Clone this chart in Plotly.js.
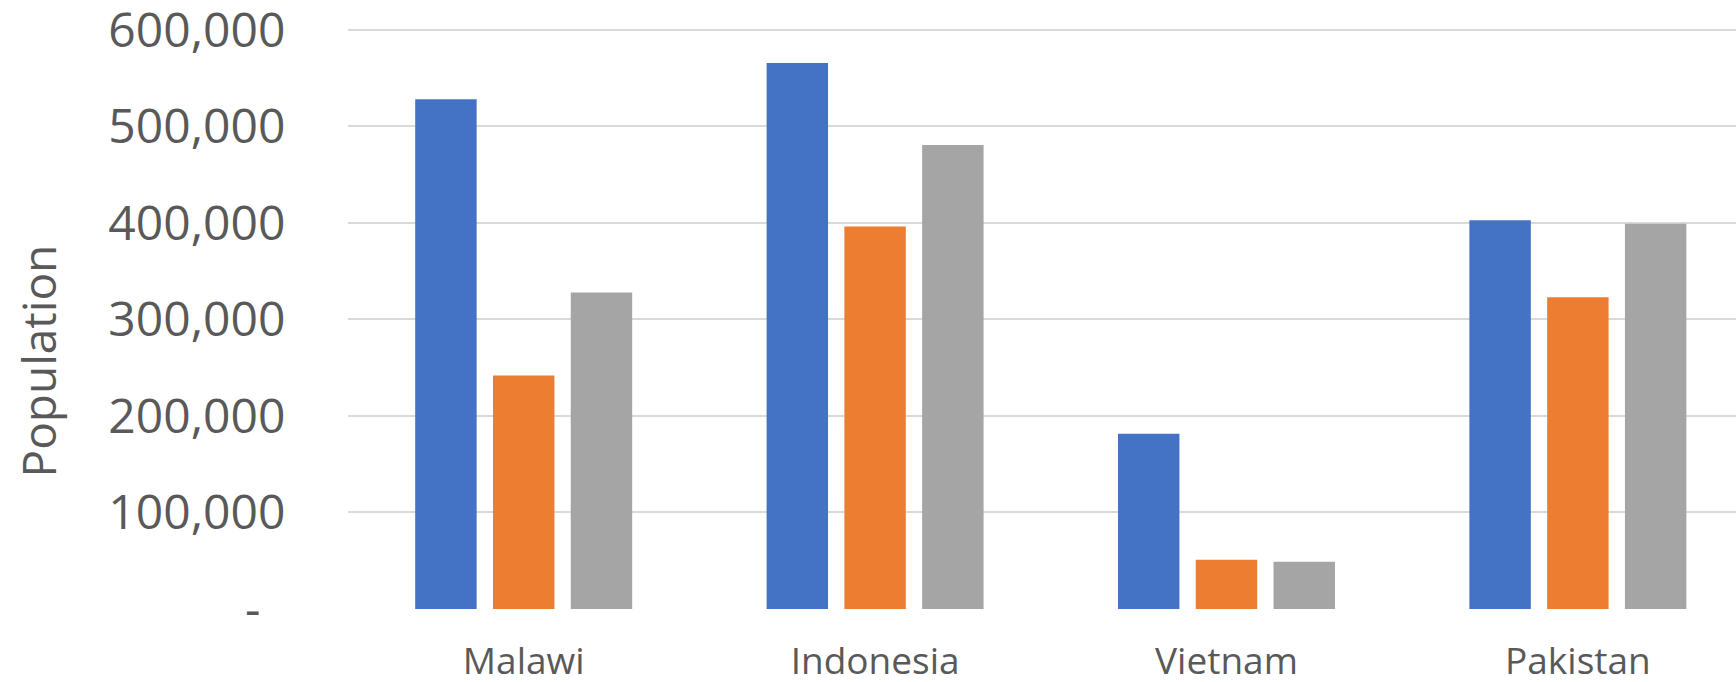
<!DOCTYPE html>
<html>
<head>
<meta charset="utf-8">
<script src="https://cdn.plot.ly/plotly-3.0.1.min.js"></script>
<style>
html, body { margin: 0; padding: 0; background: #ffffff; overflow: hidden; }
#chart { width: 1736px; height: 682px; }
</style>
</head>
<body>
<div id="chart"></div>
<script>
// Data
const categories = ["Malawi", "Indonesia", "Vietnam", "Pakistan"];
const seriesBlue = [528000, 565700, 181500, 402700];
const seriesOrange = [242000, 396300, 51000, 323000];
const seriesGray = [327800, 480700, 49000, 399000];
const yTickValues = [0, 100000, 200000, 300000, 400000, 500000, 600000];
const yTickLabels = ["-\u00a0\u00a0", "100,000", "200,000", "300,000", "400,000", "500,000", "600,000"];
const yAxisTitle = "Population";

const textColor = "#595959";
const fontFamily = "'Open Sans', 'Noto Sans', sans-serif";

function barTrace(name, values, color) {
  return {
    type: "bar",
    name: name,
    x: categories,
    y: values,
    marker: { color: color, line: { width: 0 } },
    hoverinfo: "x+y"
  };
}

const data = [
  barTrace("Series 1", seriesBlue, "#4472C4"),
  barTrace("Series 2", seriesOrange, "#ED7D31"),
  barTrace("Series 3", seriesGray, "#A5A5A5")
];

const layout = {
  width: 1736,
  height: 682,
  margin: { l: 348, r: 0, t: 24, b: 73, pad: 0 },
  paper_bgcolor: "#ffffff",
  plot_bgcolor: "#ffffff",
  showlegend: false,
  barmode: "group",
  bargap: 0.336,
  bargroupgap: 0.21,
  font: { family: fontFamily, color: textColor },
  xaxis: {
    type: "category",
    range: [-0.5, 3.45],
    showgrid: false,
    zeroline: false,
    showline: false,
    ticks: "outside",
    ticklen: 20,
    tickcolor: "rgba(0,0,0,0)",
    tickfont: { family: fontFamily, size: 37, color: textColor },
    ticklabeloverflow: "allow",
    fixedrange: true
  },
  yaxis: {
    range: [0, 606000],
    tickmode: "array",
    tickvals: yTickValues,
    ticktext: yTickLabels,
    showgrid: true,
    gridcolor: "#D9D9D9",
    gridwidth: 2,
    zeroline: false,
    showline: false,
    ticks: "outside",
    ticklen: 52,
    tickcolor: "rgba(0,0,0,0)",
    tickfont: { family: fontFamily, size: 48, color: textColor },
    ticklabeloverflow: "allow",
    fixedrange: true
  },
  annotations: [{
    text: yAxisTitle,
    xref: "paper",
    yref: "paper",
    x: 0,
    y: (609 - 361.5) / 585,
    xanchor: "center",
    yanchor: "middle",
    xshift: -310,
    textangle: -90,
    showarrow: false,
    font: { family: fontFamily, size: 46, color: textColor }
  }]
};

Plotly.newPlot("chart", data, layout, { displayModeBar: false, staticPlot: true });
</script>
</body>
</html>
